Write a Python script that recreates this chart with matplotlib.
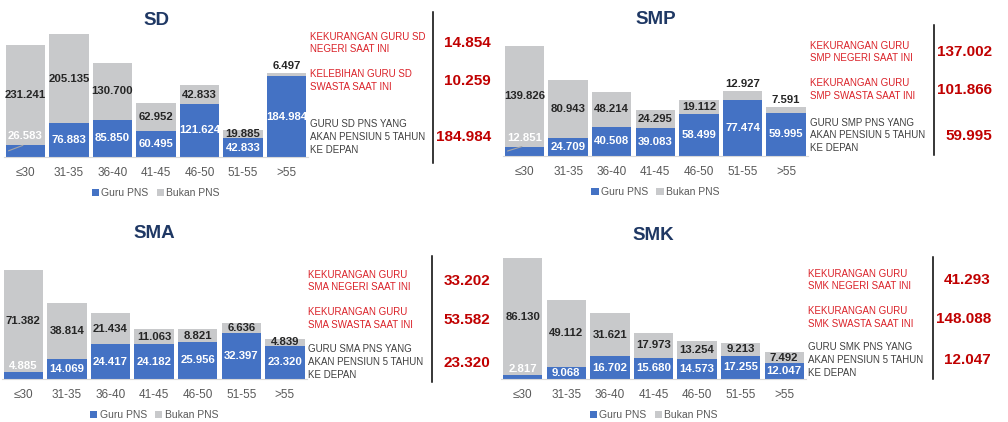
import matplotlib
matplotlib.use('Agg')
from matplotlib import pyplot as plt

plt.rcParams['font.family'] = ['Liberation Sans', 'DejaVu Sans']

groups = ['≤30', '31-35', '36-40', '41-45', '46-50', '51-55', '>55']

sd_pns = [26583, 76883, 85850, 60495, 121624, 42833, 184984]
sd_bukan = [231241, 205135, 130700, 62952, 42833, 19885, 6497]
smp_pns = [12851, 24709, 40508, 39083, 58499, 77474, 59995]
smp_bukan = [139826, 80943, 48214, 24295, 19112, 12927, 7591]
sma_pns = [4885, 14069, 24417, 24182, 25956, 32397, 23320]
sma_bukan = [71382, 38814, 21434, 11063, 8821, 6636, 4839]
smk_pns = [2817, 9068, 16702, 15680, 14573, 17255, 12047]
smk_bukan = [86130, 49112, 31621, 17973, 13254, 9213, 7492]

sd_notes = ['KEKURANGAN GURU SD\nNEGERI SAAT INI', 'KELEBIHAN GURU SD\nSWASTA SAAT INI',
            'GURU SD PNS YANG\nAKAN PENSIUN 5 TAHUN\nKE DEPAN']
sd_totals = [14854, 10259, 184984]
smp_notes = ['KEKURANGAN GURU\nSMP NEGERI SAAT INI', 'KEKURANGAN GURU\nSMP SWASTA SAAT INI',
             'GURU SMP PNS YANG\nAKAN PENSIUN 5 TAHUN\nKE DEPAN']
smp_totals = [137002, 101866, 59995]
sma_notes = ['KEKURANGAN GURU\nSMA NEGERI SAAT INI', 'KEKURANGAN GURU\nSMA SWASTA SAAT INI',
             'GURU SMA PNS YANG\nAKAN PENSIUN 5 TAHUN\nKE DEPAN']
sma_totals = [33202, 53582, 23320]
smk_notes = ['KEKURANGAN GURU\nSMK NEGERI SAAT INI', 'KEKURANGAN GURU\nSMK SWASTA SAAT INI',
             'GURU SMK PNS YANG\nAKAN PENSIUN 5 TAHUN\nKE DEPAN']
smk_totals = [41293, 148088, 12047]

BLUE = '#4472C4'
GRAY = '#C8C9CB'
NAVY = '#1F3864'
RED = '#C00000'
RED_TXT = '#DA2128'
W, H = 1008, 422

fig = plt.figure(figsize=(W / 100, H / 100), dpi=100)


def fx(x):
    return x / W


def fy(y):
    return 1 - y / H


def fmt(v):
    return f'{v:,}'.replace(',', '.')


def panel(title, pns, bukan, left, right, base, top, above, leader,
          notes, totals, tx, ty, num_x, num_y, line_x, line_y):
    ax = fig.add_axes([fx(left), fy(base), fx(right - left), (base - top) / H])
    x = range(len(groups))
    ax.bar(x, pns, 0.9, color=BLUE, label='Guru PNS')
    ax.bar(x, bukan, 0.9, bottom=pns, color=GRAY, label='Bukan PNS')
    ax.set_xlim(-0.5, len(groups) - 0.5)
    ax.set_ylim(0, max(p + b for p, b in zip(pns, bukan)))
    for s in ['top', 'left', 'right']:
        ax.spines[s].set_visible(False)
    ax.spines['bottom'].set_color('#D9D9D9')
    ax.set_yticks([])
    ax.set_xticks(list(x))
    ax.set_xticklabels(groups, fontsize=8.5, color='#595959')
    ax.tick_params(axis='x', length=0, pad=7)
    for i in x:
        p, b = pns[i], bukan[i]
        if i == 0:
            ax.annotate(fmt(p), xy=(i, p), xytext=(0, 9 if leader else 6),
                        textcoords='offset pixels', ha='center', va='center',
                        fontsize=8.2, fontweight='bold', color='white', clip_on=False)
            if leader:
                ax.annotate('', xy=(i - 0.45, p * 0.45), xytext=(i, p + 0.01 * b),
                            arrowprops=dict(arrowstyle='-', color='#A6A6A6', lw=0.8))
        else:
            ax.text(i, p / 2, fmt(p), ha='center', va='center', fontsize=8.2,
                    fontweight='bold', color='white')
        if i in above:
            ax.annotate(fmt(b), xy=(i, p + b), xytext=(0, 7), textcoords='offset pixels',
                        ha='center', va='center', fontsize=8.2, fontweight='bold',
                        color='#262626', annotation_clip=False)
        else:
            ax.text(i, p + b / 2, fmt(b), ha='center', va='center', fontsize=8.2,
                    fontweight='bold', color='#262626')
    cx = (left + right) / 2
    fig.text(fx(cx), fy(ty[0]), title, ha='center', va='center', fontsize=13.5,
             fontweight='bold', color=NAVY)
    ax.legend(loc='center', bbox_to_anchor=(fx(cx), fy(base + 36)), bbox_transform=fig.transFigure,
              ncol=2, frameon=False, fontsize=7.5, handlelength=0.7, handleheight=0.7,
              handletextpad=0.2, columnspacing=0.8, labelcolor='#595959')
    for k in range(3):
        fig.text(fx(tx), fy(ty[k + 1]), notes[k], ha='left', va='center', fontsize=7,
                 linespacing=1.35, color=RED_TXT if k < 2 else '#404040')
        fig.text(fx(num_x), fy(num_y[k]), fmt(totals[k]), ha='right', va='center',
                 fontsize=11, fontweight='bold', color=RED)
    fig.add_artist(plt.Line2D([fx(line_x), fx(line_x)], [fy(line_y[0]), fy(line_y[1])],
                              color='black', lw=1.1))


panel('SD', sd_pns, sd_bukan, 3.75, 308.25, 157, 34, [6], True,
      sd_notes, sd_totals, 310, [20.7, 43, 80.7, 137.2], 491, [43.3, 81, 136.7], 432.7, [12, 163])
panel('SMP', smp_pns, smp_bukan, 502.7, 807.9, 156, 46, [5, 6], True,
      smp_notes, smp_totals, 810, [20, 52, 89.7, 135.4], 992.3, [52.3, 90, 136], 934, [25, 155])
panel('SMA', sma_pns, sma_bukan, 1.5, 306.7, 379, 270, [], False,
      sma_notes, sma_totals, 308, [233.3, 281, 318.8, 362.2], 490.7, [281, 320, 362.7], 432, [256, 382.3])
panel('SMK', smk_pns, smk_bukan, 501, 806, 379, 258, [], False,
      smk_notes, smk_totals, 808.3, [235, 280, 317.7, 359.8], 991, [280, 319.3, 360], 932.7, [256.7, 379])

fig.savefig('out.png', dpi=100)
